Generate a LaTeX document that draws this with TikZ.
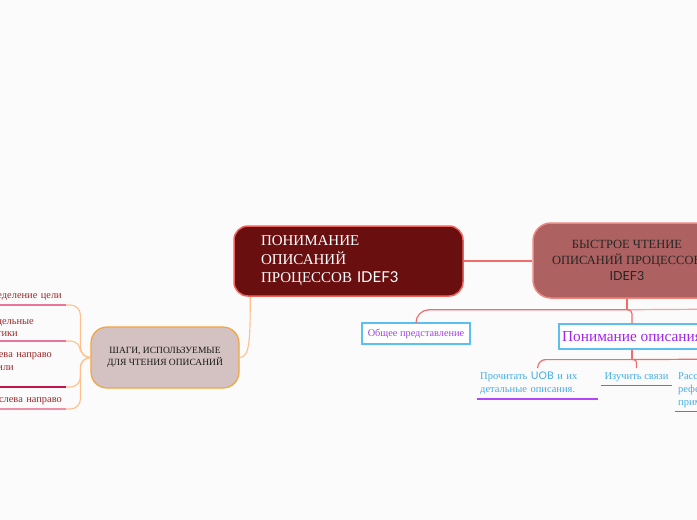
\documentclass[tikz,border=0pt]{standalone}
\usepackage{fontspec}
\setmainfont{Liberation Serif}
\newfontfamily\sansf{Lato}
\usetikzlibrary{calc}
\definecolor{bg}{HTML}{FBFBFB}
\definecolor{maindark}{HTML}{6A0F10}
\definecolor{salmonb}{HTML}{F0625C}
\definecolor{rfill}{HTML}{AD6161}
\definecolor{rborder}{HTML}{F2857E}
\definecolor{lfill}{HTML}{D4C1C1}
\definecolor{lborder}{HTML}{F4A43C}
\definecolor{rline}{HTML}{F36C6C}
\definecolor{rlinel}{HTML}{F8A3A3}
\definecolor{peach}{HTML}{FFBE8C}
\definecolor{bluebox}{HTML}{5BC0EE}
\definecolor{purp}{HTML}{A13FE3}
\definecolor{ptitle}{HTML}{A223F0}
\definecolor{ctext}{HTML}{45AEE3}
\definecolor{culine}{HTML}{B347F5}
\definecolor{ltext}{HTML}{9B2A2A}
\definecolor{ulpink}{HTML}{E8769C}
\definecolor{ulcrim}{HTML}{C2164A}
\definecolor{ulpinkl}{HTML}{EE8FA8}
\newcommand{\padr}[1]{\makebox[#1]{}}
\begin{document}
\begin{tikzpicture}[x=1pt,y=-1pt,
  mainbox/.style={draw=salmonb,line width=1.5pt,fill=maindark,rounded corners=14pt,
    text width=175pt,inner xsep=27pt,minimum height=70pt,align=left,text=white,
    font=\fontsize{15}{18.5}\selectfont},
  rbox/.style={draw=rborder,line width=1.5pt,fill=rfill,rounded corners=18pt,
    minimum width=188pt,minimum height=75pt,align=center,text=black!85,
    font=\fontsize{12.5}{16}\selectfont},
  lbox/.style={draw=lborder,line width=1.2pt,fill=lfill,rounded corners=16pt,
    minimum width=148pt,minimum height=61pt,align=center,text=black!90,
    font=\fontsize{9.5}{11.5}\selectfont},
  bbox/.style={draw=bluebox,line width=1.2pt,fill=white,inner sep=2pt},
  cnode/.style={inner xsep=3pt,inner ysep=4pt,align=left,text=ctext,
    font=\fontsize{10.5}{13}\selectfont},
  litem/.style={inner xsep=0pt,inner ysep=4pt,align=right,text width=110pt,text=ltext,
    font=\fontsize{10.4}{12.5}\selectfont},
  rl/.style={draw=rline,line width=1.2pt},
  rll/.style={draw=rlinel,line width=1.2pt},
  pl/.style={draw=peach,line width=1.1pt},
  ulc/.style={draw=culine,line width=1.6pt},
]
\useasboundingbox (0,0) rectangle (697,520);
\fill[bg] (0,0) rectangle (697,520);
\begin{scope}
\clip (0,0) rectangle (697,520);
% main nodes
\node[mainbox] (M) at (348.5,261) {ПОНИМАНИЕ\\ОПИСАНИЙ\\ПРОЦЕССОВ {\sansf IDEF3}};
\node[rbox] (R) at (627,260.5) {БЫСТРОЕ ЧТЕНИЕ\\ОПИСАНИЙ ПРОЦЕССОВ\\{\sansf IDEF3}};
\node[lbox] (S) at (165,357.5) {ШАГИ, ИСПОЛЬЗУЕМЫЕ\\ДЛЯ ЧТЕНИЯ ОПИСАНИЙ};
\node[bbox,minimum width=108pt,minimum height=21pt,text=purp,font=\fontsize{10.3}{12}\selectfont] (G) at (416,333.5) {Общее представление};
\node[bbox,minimum width=146pt,minimum height=25pt,text=ptitle,font=\fontsize{15.3}{18}\selectfont] (P) at (632,336.5) {Понимание описания};
% children of P
\node[cnode,anchor=north west,text width=115pt] (C1) at (477,368) {Прочитать {\sansf UOB} и их\\детальные описания.};
\node[cnode,anchor=north,minimum width=69pt] (C2) at (636.5,368) {Изучить связи};
\node[cnode,anchor=north west,text width=90pt] (C3) at (675,368) {Рассмотреть\\референты и\\примечания};
% left items
\node[litem,anchor=south east] (L1) at (66,305) {Определение цели\padr{4pt}};
\node[litem,anchor=south east] (L2) at (66,341) {отдельные\padr{32pt}\\тики\padr{48pt}};
\node[litem,anchor=south east] (L3) at (66,387) {слева направо\padr{14pt}\\или\padr{52pt}\\\mbox{}};
\node[litem,anchor=south east] (L4) at (66,409) {слева направо\padr{4pt}};
% underlines
\draw[draw=ulpink,line width=1.8pt] (L1.south west) -- (L1.south east);
\draw[draw=ulpink,line width=1.8pt] (L2.south west) -- (L2.south east);
\draw[draw=ulcrim,line width=1.8pt] (L3.south west) -- (L3.south east);
\draw[draw=ulpinkl,line width=1.8pt] (L4.south west) -- (L4.south east);
\draw[ulc] (C1.south west) -- (C1.south east);
\draw[ulc] (C2.south west) -- (C2.south east);
\draw[ulc] (C3.south west) -- (C3.south east);
% connectors
\draw[rl] (M.east) -- (M.east -| R.west);
\coordinate (m1) at ($(M.south west)+(17,0)$);
\draw[pl] (m1) .. controls +(0,44) and +(10,0) .. (S.east);
\foreach \t in {L1,L2,L3,L4}{
  \draw[pl,rounded corners=10pt] (S.west) -- ++(-10,0) |- (\t.south east);
}
\coordinate (rj) at ($(R.south)+(0,11)$);
\coordinate (offR) at (740,309);
\draw[rll] (rj) -- (offR);
\draw[rl,rounded corners=13pt] (rj) -| (G.north);
\draw[rl,rounded corners=4pt] (rj) -| (P.north);
\draw[rl] (R.south) -- (rj);
\coordinate (pj) at ($(P.south)+(0,10)$);
\coordinate (offP) at (740,359);
\draw[rl] (pj) -- (offP);
\draw[rl,rounded corners=8pt] (pj) -| (C1.north);
\draw[rl,rounded corners=3pt] (pj) -| (C2.north);
\draw[rl] (P.south) -- (pj);
\end{scope}
\end{tikzpicture}
\end{document}
